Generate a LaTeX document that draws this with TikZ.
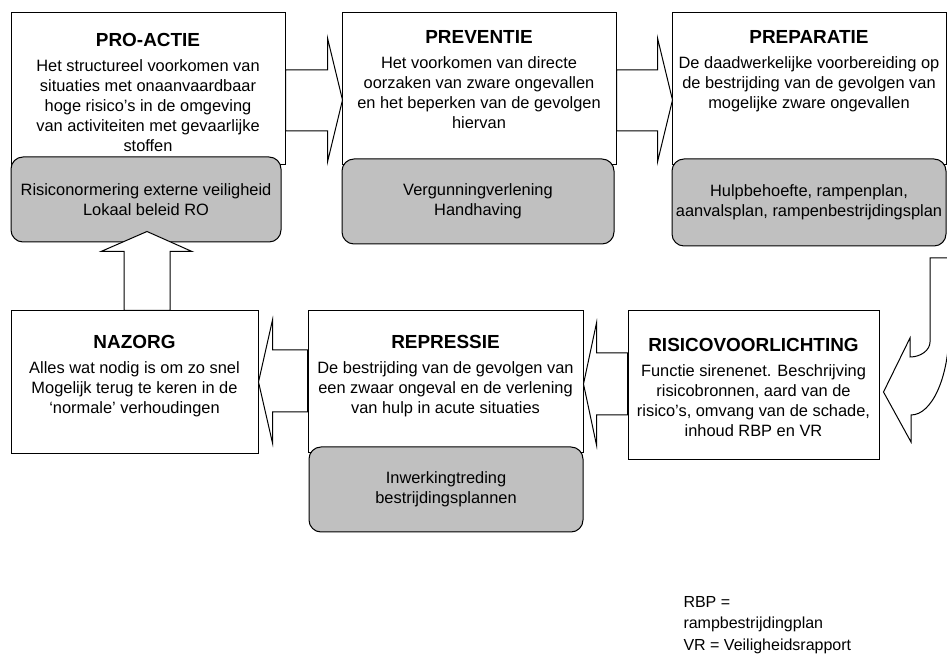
\documentclass[tikz,border=0pt]{standalone}
\usepackage{fontspec}
\setmainfont{Liberation Sans}
\definecolor{grijs}{RGB}{192,192,192}
\newcommand{\fasekop}[1]{{\fontsize{14.2}{17}\selectfont\bfseries #1}}
\tikzset{every picture/.style={line width=0.75pt}}
\tikzset{
  fase/.style={draw, fill=white, inner sep=0pt},
  maatregel/.style={draw, fill=grijs, rounded corners=9pt, inner sep=0pt, align=center, font=\fontsize{12.3}{15}\selectfont},
  tekst/.style={inner sep=0pt, anchor=north, align=center, font=\fontsize{12.3}{15}\selectfont},
  blokpijl/.style={draw, fill=white, line join=miter}
}
\begin{document}
\begin{tikzpicture}[x=0.75pt,y=0.75pt,yscale=-1,xscale=1]
        \useasboundingbox (0,0) rectangle (947,655);

        %Shape: Rectangle [pro-actie]
        \node[fase, minimum width=205.5pt, minimum height=114pt] (proactie) at (148,89) {};
        %Shape: Rectangle [preventie]
        \node[fase, minimum width=205.5pt, minimum height=114pt] (preventie) at (479,89) {};
        %Shape: Rectangle [preparatie]
        \node[fase, minimum width=205.5pt, minimum height=114pt] (preparatie) at (809,89) {};
        %Shape: Rectangle [nazorg]
        \node[fase, minimum width=185.25pt, minimum height=107.25pt] (nazorg) at (134.5,382.5) {};
        %Shape: Rectangle [repressie]
        \node[fase, minimum width=206.25pt, minimum height=106.5pt] (repressie) at (445.5,382) {};
        %Shape: Rectangle [risicovoorlichting]
        \node[fase, minimum width=188.25pt, minimum height=111.75pt] (risico) at (753.5,385.5) {};

        %Rounded Rect
        \node[maatregel, minimum width=202.5pt, minimum height=63.75pt] (normering) at (146,199.5) {Risiconormering externe veiligheid\\Lokaal beleid RO};
        %Rounded Rect
        \node[maatregel, minimum width=204pt, minimum height=63.75pt] (vergunning) at (478,201.5) {Vergunningverlening\\Handhaving};
        %Rounded Rect
        \node[maatregel, minimum width=205.5pt, minimum height=65.25pt] (hulpplan) at (809,202.5) {Hulpbehoefte, rampenplan,\\aanvalsplan, rampenbestrijdingsplan};
        %Rounded Rect
        \node[maatregel, minimum width=205.5pt, minimum height=63.75pt] (inwerking) at (446,489.5) {Inwerkingtreding\\bestrijdingsplannen};

        % Text Node
        \node[tekst] (proactietxt) at (148,33) {\fasekop{PRO-ACTIE}\\[3.4pt]Het structureel voorkomen van\\situaties met onaanvaardbaar\\hoge risico’s in de omgeving\\van activiteiten met gevaarlijke\\stoffen};
        % Text Node
        \node[tekst] (preventietxt) at (479,30) {\fasekop{PREVENTIE}\\[3.4pt]Het voorkomen van directe\\oorzaken van zware ongevallen\\en het beperken van de gevolgen\\hiervan};
        % Text Node
        \node[tekst] (preparatietxt) at (809,30) {\fasekop{PREPARATIE}\\[3.4pt]De daadwerkelijke voorbereiding op\\de bestrijding van de gevolgen van\\mogelijke zware ongevallen};
        % Text Node
        \node[tekst] (nazorgtxt) at (134.5,335) {\fasekop{NAZORG}\\[3.4pt]Alles wat nodig is om zo snel\\Mogelijk terug te keren in de\\‘normale’ verhoudingen};
        % Text Node
        \node[tekst] (repressietxt) at (445.5,335) {\fasekop{REPRESSIE}\\[3.4pt]De bestrijding van de gevolgen van\\een zwaar ongeval en de verlening\\van hulp in acute situaties};
        % Text Node
        \node[tekst] (risicotxt) at (753.5,338) {\fasekop{RISICOVOORLICHTING}\\[3.4pt]Functie sirenenet. Beschrijving\\risicobronnen, aard van de\\risico’s, omvang van de schade,\\inhoud RBP en VR};

        %Right Arrow
        \draw[blokpijl] (proactie.east) ++(0,-19) -- ++(42,0) -- ++(0,-32) -- ++(15,62) -- ++(-15,62) -- ++(0,-31) -- ++(-42,0) -- cycle;
        %Right Arrow
        \draw[blokpijl] (preventie.east) ++(0,-19) -- ++(41,0) -- ++(0,-32) -- ++(15,62) -- ++(-15,62) -- ++(0,-31) -- ++(-41,0) -- cycle;
        %Curved Left Arrow
        \draw[blokpijl] (risico.east) ++(4,6.5) coordinate (punt) -- (910,338) -- (910,357) .. controls (921,357) and (930,350) .. (930,342) -- (930,258) -- (949,258) -- (949,330) .. controls (949,377) and (932,415) .. (911,415) -- (911,442) -- cycle;
        %Left Arrow
        \draw[blokpijl] (risico.west) ++(0,-32.5) -- ++(-31,0) -- ++(0,-30) -- ++(-13,61) -- ++(13,61) -- ++(0,-30) -- ++(31,0) -- cycle;
        %Left Arrow
        \draw[blokpijl] (repressie.west) ++(0,-32) -- ++(-35,0) -- ++(0,-30) -- ++(-14,62) -- ++(14,61) -- ++(0,-31) -- ++(35,0) -- cycle;
        %Up Arrow
        \draw[blokpijl] (nazorg.north) ++(-10.5,0) -- ++(0,-59) -- ++(-23,0) -- ++(46,-20) -- ++(45,20) -- ++(-22,0) -- ++(0,59) -- cycle;

        % Text Node
        \node[inner sep=0pt, anchor=north west, align=left, font=\fontsize{12}{16}\selectfont] (legenda) at (683,596) {RBP =\\rampbestrijdingplan\\VR = Veiligheidsrapport};
\end{tikzpicture}
\end{document}
